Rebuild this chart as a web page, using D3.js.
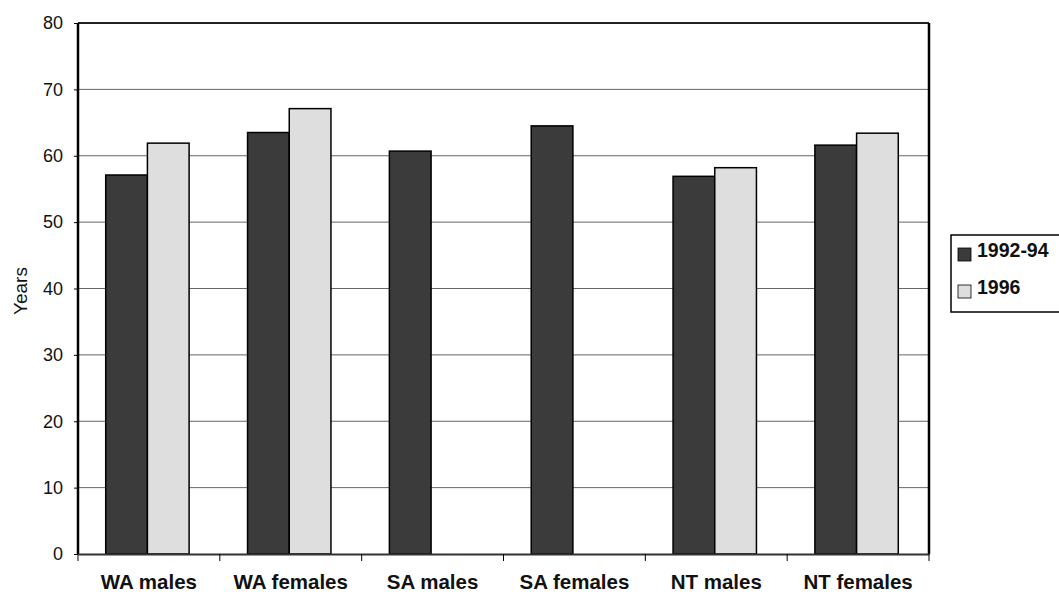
<!DOCTYPE html>
<html><head><meta charset="utf-8">
<script src="https://cdn.jsdelivr.net/npm/d3@7"></script>
<style>
body{margin:0;background:#fff;}
text{font-family:"Liberation Sans",Arial,sans-serif;fill:#111;}
</style></head>
<body><svg id="c" width="1059" height="594"></svg>
<script>
const categories = ["WA males","WA females","SA males","SA females","NT males","NT females"];
const seriesNames = ["1992-94","1996"];
const values1992 = [57.1, 63.5, 60.7, 64.5, 56.9, 61.6];
const values1996 = [61.9, 67.1, null, null, 58.2, 63.4];
const yTicks = [0,10,20,30,40,50,60,70,80];

const svg = d3.select("#c");
const L = 78, R = 929, T = 23, B = 554;
const x = d3.scaleBand().domain(categories).range([L, R]);
const y = d3.scaleLinear().domain([0, 80]).range([B, T]);
const colors = ["#3b3b3b", "#dedede"];
const series = [values1992, values1996];
const bw = 41.7;

// gridlines
svg.append("g").selectAll("line").data(yTicks.filter(d => d > 0 && d < 80)).join("line")
  .attr("x1", L).attr("x2", R).attr("y1", d => y(d)).attr("y2", d => y(d))
  .attr("stroke", "#666").attr("stroke-width", 1);

// bars
series.forEach((vals, si) => {
  svg.append("g").selectAll("rect").data(categories.map((c, i) => ({c, v: vals[i]})).filter(d => d.v != null)).join("rect")
    .attr("x", d => x(d.c) + x.bandwidth() / 2 - bw - 1.5 + si * bw)
    .attr("y", d => y(d.v))
    .attr("width", bw)
    .attr("height", d => B - y(d.v))
    .attr("fill", colors[si])
    .attr("stroke", "#000").attr("stroke-width", 1.5);
});

// frame
svg.append("line").attr("x1", L).attr("x2", R).attr("y1", T).attr("y2", T).attr("stroke", "#222").attr("stroke-width", 2);
svg.append("line").attr("x1", L).attr("x2", L).attr("y1", T).attr("y2", B).attr("stroke", "#000").attr("stroke-width", 2.5);
svg.append("line").attr("x1", R).attr("x2", R).attr("y1", T).attr("y2", B).attr("stroke", "#000").attr("stroke-width", 2.5);

// y axis
const ya = svg.append("g").attr("transform", `translate(${L},0)`)
  .call(d3.axisLeft(y).tickValues(yTicks).tickSize(4).tickPadding(11).tickFormat(d3.format("d")));
ya.select(".domain").remove();
ya.selectAll("line").attr("stroke", "#000");
ya.selectAll("text").attr("font-size", 18).style("font-family", "Liberation Sans, Arial, sans-serif").attr("fill", "#111");

// x axis
const xa = svg.append("g").attr("transform", `translate(0,${B})`)
  .call(d3.axisBottom(x).tickSize(0).tickPadding(20));
xa.select(".domain").attr("stroke", "#333").attr("stroke-width", 2);
xa.selectAll("text").attr("font-size", 20.5).attr("font-weight", "bold")
  .style("font-family", "Liberation Sans, Arial, sans-serif").attr("fill", "#111");
// category boundary ticks
svg.append("g").selectAll("line").data(d3.range(categories.length + 1)).join("line")
  .attr("x1", i => L + i * x.step()).attr("x2", i => L + i * x.step())
  .attr("y1", B).attr("y2", B + 7).attr("stroke", "#000").attr("stroke-width", 1);

// y title
svg.append("text").attr("transform", "translate(27,291) rotate(-90)")
  .attr("text-anchor", "middle").attr("font-size", 19).text("Years");

// legend
const lg = svg.append("g");
lg.append("rect").attr("x", 951).attr("y", 235).attr("width", 120).attr("height", 77)
  .attr("fill", "#fff").attr("stroke", "#000").attr("stroke-width", 1.5);
seriesNames.forEach((n, i) => {
  lg.append("rect").attr("x", 958).attr("y", 248 + i * 37).attr("width", 13).attr("height", 13)
    .attr("fill", colors[i]).attr("stroke", "#000").attr("stroke-width", 0.8);
  lg.append("text").attr("x", 977).attr("y", 257 + i * 37).attr("font-size", 19.5)
    .attr("font-weight", "bold").text(n);
});
</script></body></html>
